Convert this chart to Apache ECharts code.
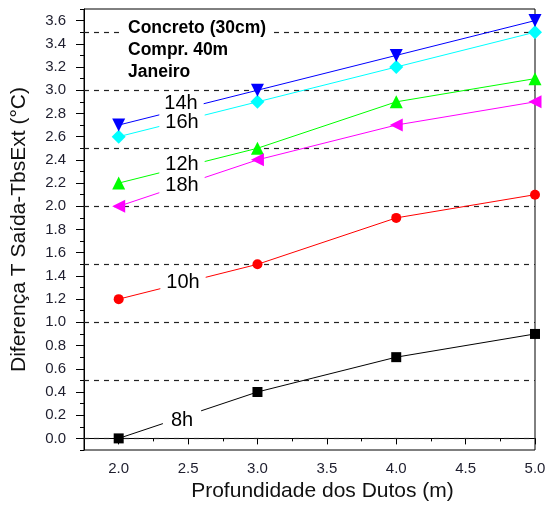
<!DOCTYPE html>
<html>
<head>
<meta charset="utf-8">
<script src="https://cdn.jsdelivr.net/npm/echarts@6/dist/echarts.min.js"></script>
<style>
html,body{margin:0;padding:0;background:#fff;}
#chart{width:550px;height:507px;}
</style>
</head>
<body>
<div id="chart"></div>
<script>
var depths = [2.0, 3.0, 4.0, 5.0];
var h8  = [0.0, 0.4, 0.7, 0.9];
var h10 = [1.2, 1.5, 1.9, 2.1];
var h12 = [2.2, 2.5, 2.9, 3.1];
var h18 = [2.0, 2.4, 2.7, 2.9];
var h16 = [2.6, 2.9, 3.2, 3.5];
var h14 = [2.7, 3.0, 3.3, 3.6];
var xTicks = [2.0, 2.5, 3.0, 3.5, 4.0, 4.5, 5.0];
var yTicks = [0.0, 0.2, 0.4, 0.6, 0.8, 1.0, 1.2, 1.4, 1.6, 1.8, 2.0, 2.2, 2.4, 2.6, 2.8, 3.0, 3.2, 3.4, 3.6];
var refLines = [0.0, 0.5, 1.0, 1.5, 2.0, 2.5, 3.0, 3.5];
var xMin = 1.75, xMax = 5.0, yMin = -0.1, yMax = 3.7;

function minorOf(arr, lo, hi) {
  var step = arr[1] - arr[0];
  var out = [];
  var v = arr[0] - step / 2;
  while (v <= hi + 1e-9) {
    if (v >= lo - 1e-9) out.push(Math.round(v * 1000) / 1000);
    v += step;
  }
  return out;
}
function pairs(ys) { return depths.map(function (d, i) { return [d, ys[i]]; }); }

var tickColor = '#1e1e2e';

var chart = echarts.init(document.getElementById('chart'), null, {renderer: 'canvas'});

function mkSeries(name, data, color, symbol, size, rot) {
  return {
    name: name, type: 'line', data: pairs(data),
    xAxisIndex: 0, yAxisIndex: 0,
    symbol: symbol, symbolSize: size, symbolRotate: rot || 0,
    showAllSymbol: true,
    itemStyle: {color: color, borderWidth: 0},
    lineStyle: {color: color, width: 1},
    z: 5, animation: false
  };
}

var option = {
  animation: false,
  backgroundColor: '#fff',
  grid: {left: 84, right: 15, top: 9, bottom: 55, show: true, borderColor: '#000', borderWidth: 1, backgroundColor: 'transparent'},
  xAxis: [{
    type: 'value', min: xMin, max: xMax,
    name: 'Profundidade dos Dutos (m)', nameLocation: 'middle', nameGap: 31,
    nameTextStyle: {fontSize: 21, fontFamily: '"Liberation Sans", Arial, sans-serif', color: '#111', padding: [0, 0, 0, 26]},
    axisLine: {show: true, lineStyle: {color: '#000', width: 1}},
    axisTick: {show: true, customValues: xTicks, length: 6, lineStyle: {color: '#000'}},
    axisLabel: {show: true, customValues: xTicks, margin: 11, fontSize: 15, fontFamily: '"Liberation Sans", Arial, sans-serif', color: tickColor,
      formatter: function (v) { return v.toFixed(1); }},
    splitLine: {show: false}
  }, {
    type: 'value', min: xMin, max: xMax, position: 'bottom',
    axisLine: {show: false},
    axisTick: {show: true, customValues: minorOf(xTicks, xMin, xMax), length: 3, lineStyle: {color: '#000'}},
    axisLabel: {show: false}, splitLine: {show: false}
  }],
  yAxis: [{
    type: 'value', min: yMin, max: yMax,
    name: 'Diferença T Saída-TbsExt (°C)', nameLocation: 'middle', nameGap: 54,
    nameTextStyle: {fontSize: 21, fontFamily: '"Liberation Sans", Arial, sans-serif', color: '#111'},
    axisLine: {show: true, lineStyle: {color: '#000', width: 1}},
    axisTick: {show: true, customValues: yTicks, length: 8, lineStyle: {color: '#000'}},
    axisLabel: {show: true, customValues: yTicks, margin: 18, fontSize: 15, fontFamily: '"Liberation Sans", Arial, sans-serif', color: tickColor,
      formatter: function (v) { return v.toFixed(1); }},
    splitLine: {show: false}
  }, {
    type: 'value', min: yMin, max: yMax, position: 'left',
    axisLine: {show: false},
    axisTick: {show: true, customValues: minorOf(yTicks, yMin, yMax), length: 4, lineStyle: {color: '#000'}},
    axisLabel: {show: false}, splitLine: {show: false}
  }],
  series: [
    {
      type: 'line', data: [], xAxisIndex: 0, yAxisIndex: 0, z: 1,
      markLine: {
        silent: true, symbol: ['none', 'none'], animation: false,
        label: {show: false},
        lineStyle: {type: [5, 5], color: '#222', width: 1.2},
        data: refLines.map(function (v) { return {yAxis: v}; })
      }
    },
    mkSeries('8h', h8, '#000000', 'rect', 10, 0),
    mkSeries('10h', h10, '#ff0000', 'circle', 10, 0),
    mkSeries('12h', h12, '#00ff00', 'triangle', 13, 0),
    mkSeries('18h', h18, '#ff00ff', 'triangle', 13, 90),
    mkSeries('16h', h16, '#00ffff', 'diamond', 14, 0),
    mkSeries('14h', h14, '#0000ff', 'triangle', 13, 180)
  ],
  graphic: {
    elements: [
      {type: 'text', x: 124, y: 28, z: 10, style: {text: 'Concreto (30cm)', font: 'bold 17.5px "Liberation Sans", Arial, sans-serif', fill: '#000', verticalAlign: 'middle', backgroundColor: '#fff', padding: [2, 6, 2, 4]}},
      {type: 'text', x: 128, y: 50, z: 10, style: {text: 'Compr. 40m', font: 'bold 17.5px "Liberation Sans", Arial, sans-serif', fill: '#000', verticalAlign: 'middle'}},
      {type: 'text', x: 128, y: 72, z: 10, style: {text: 'Janeiro', font: 'bold 17.5px "Liberation Sans", Arial, sans-serif', fill: '#000', verticalAlign: 'middle'}},
      {type: 'text', x: 181, y: 103, z: 10, style: {text: '14h', font: '20px "Liberation Sans", Arial, sans-serif', fill: '#000', align: 'center', verticalAlign: 'middle', backgroundColor: '#fff', padding: [0, 6]}},
      {type: 'text', x: 182, y: 122, z: 10, style: {text: '16h', font: '20px "Liberation Sans", Arial, sans-serif', fill: '#000', align: 'center', verticalAlign: 'middle', backgroundColor: '#fff', padding: [0, 6]}},
      {type: 'text', x: 182, y: 164, z: 10, style: {text: '12h', font: '20px "Liberation Sans", Arial, sans-serif', fill: '#000', align: 'center', verticalAlign: 'middle', backgroundColor: '#fff', padding: [0, 6]}},
      {type: 'text', x: 182, y: 185, z: 10, style: {text: '18h', font: '20px "Liberation Sans", Arial, sans-serif', fill: '#000', align: 'center', verticalAlign: 'middle', backgroundColor: '#fff', padding: [0, 6]}},
      {type: 'text', x: 183, y: 282, z: 10, style: {text: '10h', font: '20px "Liberation Sans", Arial, sans-serif', fill: '#000', align: 'center', verticalAlign: 'middle', backgroundColor: '#fff', padding: [0, 6]}},
      {type: 'text', x: 182, y: 420, z: 10, style: {text: '8h', font: '20px "Liberation Sans", Arial, sans-serif', fill: '#000', align: 'center', verticalAlign: 'middle', backgroundColor: '#fff', padding: [0, 8]}}
    ]
  }
};
chart.setOption(option);
</script>
</body>
</html>
